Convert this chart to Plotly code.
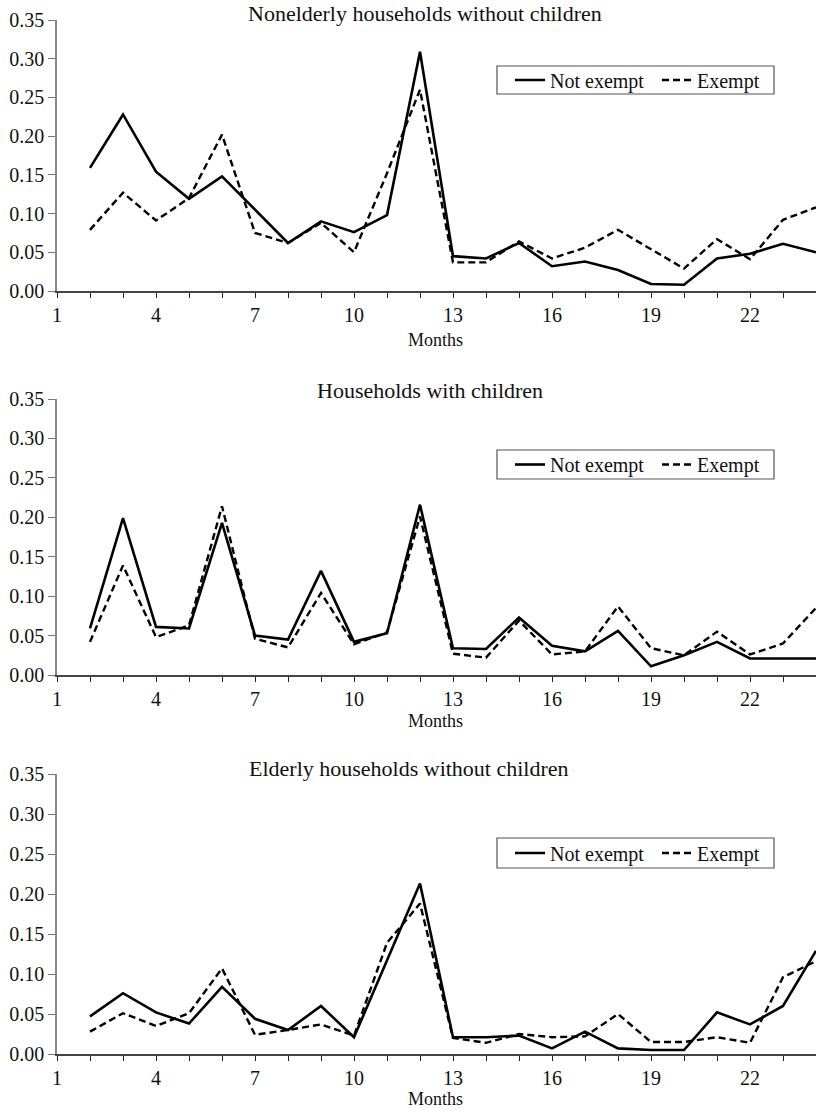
import plotly.graph_objects as go

# Months on the horizontal axis
months = list(range(2, 25))

# Nonelderly households without children
nonelderly_not_exempt = [0.159, 0.228, 0.154, 0.119, 0.148, 0.105, 0.062, 0.090, 0.076, 0.098, 0.309,
                         0.045, 0.042, 0.062, 0.032, 0.038, 0.027, 0.009, 0.008, 0.042, 0.048, 0.061, 0.050]
nonelderly_exempt = [0.079, 0.127, 0.091, 0.120, 0.202, 0.075, 0.062, 0.088, 0.050, 0.152, 0.260,
                     0.037, 0.037, 0.064, 0.042, 0.056, 0.079, 0.054, 0.029, 0.067, 0.041, 0.092, 0.108]

# Households with children
children_not_exempt = [0.059, 0.199, 0.061, 0.059, 0.193, 0.050, 0.045, 0.132, 0.042, 0.053, 0.216,
                       0.034, 0.033, 0.073, 0.037, 0.030, 0.056, 0.011, 0.025, 0.042, 0.021, 0.021, 0.021]
children_exempt = [0.042, 0.139, 0.048, 0.063, 0.214, 0.046, 0.035, 0.104, 0.039, 0.054, 0.201,
                   0.027, 0.022, 0.069, 0.026, 0.030, 0.087, 0.034, 0.025, 0.055, 0.026, 0.040, 0.085]

# Elderly households without children
elderly_not_exempt = [0.047, 0.076, 0.052, 0.038, 0.084, 0.044, 0.030, 0.060, 0.021, 0.116, 0.213,
                      0.021, 0.021, 0.023, 0.007, 0.028, 0.007, 0.005, 0.005, 0.052, 0.037, 0.060, 0.129]
elderly_exempt = [0.028, 0.051, 0.035, 0.051, 0.107, 0.024, 0.030, 0.037, 0.023, 0.139, 0.188,
                  0.020, 0.014, 0.025, 0.021, 0.022, 0.050, 0.015, 0.015, 0.021, 0.014, 0.096, 0.116]

panel_titles = ["Nonelderly households without children",
                "Households with children",
                "Elderly households without children"]
series_names = ["Not exempt", "Exempt"]
x_tick_values = list(range(1, 25))
x_tick_text = [str(v) if (v - 1) % 3 == 0 else "" for v in x_tick_values]
y_tick_values = [0.0, 0.05, 0.10, 0.15, 0.20, 0.25, 0.30, 0.35]

W, H = 816, 1112
ML = 57
PW = W - ML
FONT = "Liberation Serif, Times New Roman, serif"


def px_x(px):
    # horizontal pixel -> paper fraction (paper starts at the left margin)
    return (px - ML) / PW


def px_y(py):
    return 1 - py / H


panels = [
    (nonelderly_not_exempt, nonelderly_exempt),
    (children_not_exempt, children_exempt),
    (elderly_not_exempt, elderly_exempt),
]
# pixel layout of each panel:
# (plot top, plot bottom, title centre x, title y, months y, legend box top, legend box bottom)
panel_px = [
    (20, 291, 425, 13, 340, 66, 94),
    (399, 675, 430, 391, 721, 450, 479),
    (774, 1054, 409, 768, 1099, 838, 868),
]
LEG_L, LEG_R = 497, 774

fig = go.Figure()
legend_ids = ["legend", "legend2", "legend3"]

for i, ((ne, ex), (top, bot, tx, ty, my, lt, lb)) in enumerate(zip(panels, panel_px)):
    n = "" if i == 0 else str(i + 1)
    fig.add_trace(go.Scatter(x=months, y=ne, mode="lines", name=series_names[0],
                             line=dict(color="black", width=2.6),
                             xaxis="x" + n, yaxis="y" + n, legend=legend_ids[i]))
    fig.add_trace(go.Scatter(x=months, y=ex, mode="lines", name=series_names[1],
                             line=dict(color="black", width=2.4, dash="7px,4px"),
                             xaxis="x" + n, yaxis="y" + n, legend=legend_ids[i]))

    fig.layout["xaxis" + n] = dict(
        domain=[0, 1], anchor="y" + n, range=[1, 24],
        tickmode="array", tickvals=x_tick_values, ticktext=x_tick_text,
        ticks="outside", ticklen=5, tickwidth=1.2, tickcolor="#222",
        showline=True, linecolor="#444", linewidth=1.5,
        showgrid=False, zeroline=False,
        tickfont=dict(family=FONT, size=20, color="#111"),
    )
    fig.layout["yaxis" + n] = dict(
        domain=[px_y(bot), px_y(top)], anchor="x" + n, range=[0, 0.35],
        tickmode="array", tickvals=y_tick_values, tickformat=".2f",
        ticks="outside", ticklen=7, tickwidth=1.2, tickcolor="#777",
        showline=True, linecolor="#888", linewidth=1.5,
        showgrid=False, zeroline=False,
        tickfont=dict(family=FONT, size=20, color="#111"),
    )
    # legend box
    fig.add_shape(type="rect", xref="paper", yref="paper",
                  x0=px_x(LEG_L), x1=px_x(LEG_R), y0=px_y(lb), y1=px_y(lt),
                  line=dict(color="#555", width=1.2), fillcolor="white", layer="above")
    fig.layout[legend_ids[i]] = dict(
        x=px_x(510), xanchor="left", y=px_y((lt + lb) / 2), yanchor="middle",
        orientation="h", borderwidth=0, bgcolor="rgba(0,0,0,0)",
        font=dict(family=FONT, size=20, color="#111"),
        itemwidth=30, entrywidth=102, entrywidthmode="pixels",
    )
    fig.add_annotation(text=panel_titles[i], x=px_x(tx), y=px_y(ty), xref="paper", yref="paper",
                       xanchor="center", yanchor="middle", showarrow=False,
                       font=dict(family=FONT, size=22, color="#111"))
    fig.add_annotation(text="Months", x=px_x(435), y=px_y(my), xref="paper", yref="paper",
                       xanchor="center", yanchor="middle", showarrow=False,
                       font=dict(family=FONT, size=18, color="#111"))

fig.update_layout(
    width=W, height=H,
    margin=dict(l=ML, r=0, t=0, b=0, autoexpand=False),
    paper_bgcolor="white", plot_bgcolor="white",
    font=dict(family=FONT, color="#111"),
)

fig.write_html("out.html")
